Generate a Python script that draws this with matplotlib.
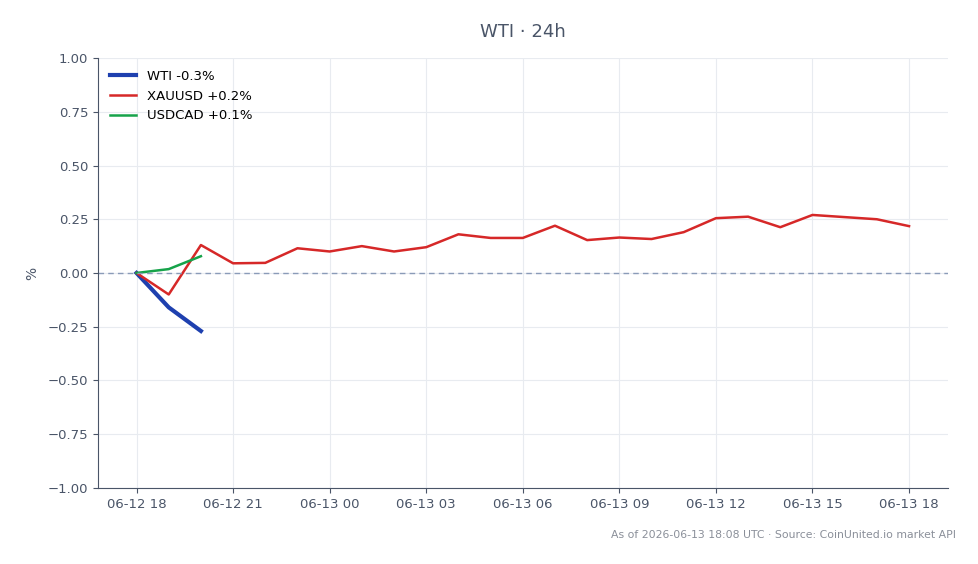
import matplotlib
matplotlib.use('Agg')
import matplotlib.pyplot as plt
import matplotlib.dates as mdates
import numpy as np
import pandas as pd

# hourly timestamps over the last 24h
times = pd.date_range('2026-06-12 18:00', '2026-06-13 18:00', freq='h')

xauusd = [0.0, -0.10, 0.13, 0.045, 0.047, 0.115, 0.10, 0.125, 0.10, 0.12,
          0.18, 0.163, 0.163, 0.22, 0.153, 0.165, 0.158, 0.19, 0.255, 0.262,
          0.213, 0.27, 0.26, 0.25, 0.218]
wti = [0.0, -0.16, -0.27]
usdcad = [0.0, 0.018, 0.078]

labels = ['WTI -0.3%', 'XAUUSD +0.2%', 'USDCAD +0.1%']

axis_color = '#4a5568'

fig, ax = plt.subplots(figsize=(9.79, 5.64), dpi=100)
fig.subplots_adjust(left=0.1, right=0.968, top=0.897, bottom=0.135)

ax.plot(times[:len(wti)], wti, color='#1e40af', lw=3, label=labels[0])
ax.plot(times, xauusd, color='#d62828', lw=1.8, label=labels[1])
ax.plot(times[:len(usdcad)], usdcad, color='#16a34a', lw=1.8, label=labels[2])
ax.axhline(0, color='#8a9bb8', lw=1, ls='--', dashes=(4, 3))

ax.set_ylim(-1, 1)
ax.set_yticks(np.arange(-1, 1.01, 0.25))
ax.yaxis.set_major_formatter(
    matplotlib.ticker.FuncFormatter(lambda v, p: f'{v:.2f}'.replace('-', '\u2212')))
ax.xaxis.set_major_locator(mdates.HourLocator(byhour=range(0, 24, 3)))
ax.xaxis.set_major_formatter(mdates.DateFormatter('%m-%d %H'))

ax.grid(True, color='#e8ebf0', lw=0.8)
ax.set_axisbelow(True)
for s in ['top', 'right']:
    ax.spines[s].set_visible(False)
for s in ['left', 'bottom']:
    ax.spines[s].set_color(axis_color)
ax.tick_params(colors=axis_color, labelsize=9.5)
ax.set_ylabel('%', color=axis_color, fontsize=10, labelpad=6)
ax.set_title('WTI · 24h', color=axis_color, fontsize=13, pad=15)

ax.legend(loc='upper left', frameon=False, fontsize=9.5)

fig.text(0.977, 0.052, 'As of 2026-06-13 18:08 UTC · Source: CoinUnited.io market API',
         ha='right', va='center', fontsize=7.8, color='#8a8f99')

fig.savefig('out.png', dpi=100)
